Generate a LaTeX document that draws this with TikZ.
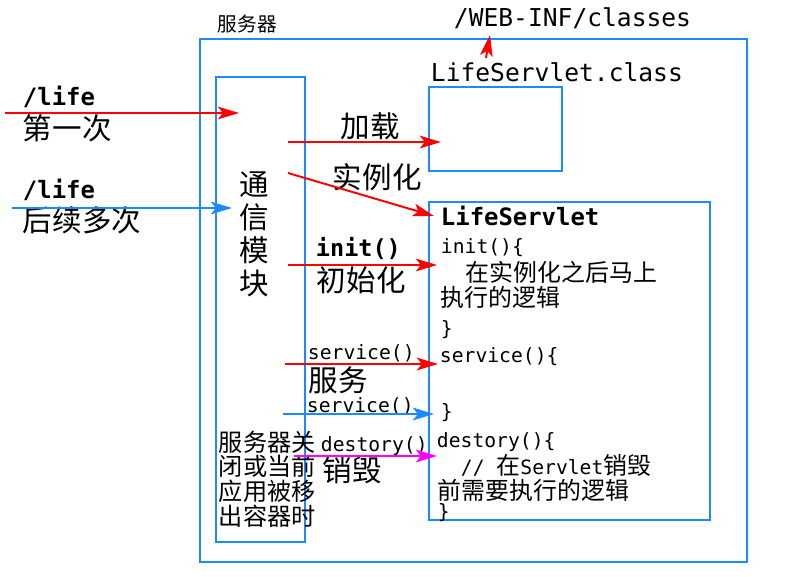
\documentclass[tikz,border=0pt]{standalone}
\usepackage{fontspec}
\setmainfont{Noto Sans CJK SC}
\setmonofont{DejaVu Sans Mono}
\usetikzlibrary{arrows.meta,fit}
\definecolor{frameblue}{RGB}{30,136,255}
\definecolor{destroypink}{RGB}{255,0,255}
\newcommand\zh[1]{{\rmfamily\fontsize{17}{17}\selectfont #1}}

\begin{document}
\begin{tikzpicture}[x=0.025cm,y=-0.025cm,line width=1.4pt,
    box/.style={draw=frameblue,inner sep=0pt},
    cn/.style={anchor=west,inner sep=0pt,font=\fontsize{#1}{#1}\selectfont},
    mono/.style={anchor=west,inner sep=0pt,font=\ttfamily\fontsize{#1}{#1}\selectfont},
    boldmono/.style={anchor=west,inner sep=0pt,font=\ttfamily\bfseries\fontsize{#1}{#1}\selectfont},
    call/.style={draw=#1,-{Stealth[length=15pt,width=9pt,inset=3.5pt]}}]
    \useasboundingbox (0,0) rectangle (791,577);

    \node[box,fit={(200,39) (747,562)}] (server) {};
    \node[box,fit={(216,77) (305,542)}] (comm) {};
    \node[box,fit={(429,87) (562,171)}] (classfile) {};
    \node[box,fit={(429,202) (710,520)}] (servlet) {};

    \node[cn=14] (servername) at (217,24) {服务器};
    \node[mono=17.5] (classes) at (453,18) {/WEB-INF/classes};
    \node[mono=17.5] (classname) at (430,72) {LifeServlet.class};
    \node[boldmono=17] (life1) at (22,97) {/life};
    \node[cn=21] (first) at (22,128) {第一次};
    \node[boldmono=17] (life2) at (22,190) {/life};
    \node[cn=21] (later) at (22,220) {后续多次};
    \node[font=\fontsize{21}{23.4}\selectfont,align=center,inner sep=0pt] (commtext) at (254,234) {通\\信\\模\\块};
    \node[anchor=west,inner sep=0pt,align=left,font=\fontsize{17.2}{17.5}\selectfont] (shutdown) at (218,479) {服务器关\\闭或当前\\应用被移\\出容器时};

    \node[cn=21] (load) at (340,126) {加载};
    \node[cn=21] (inst) at (332,177) {实例化};
    \node[boldmono=16.7] (initcall) at (315,249) {init()};
    \node[cn=21] (initname) at (316,280) {初始化};
    \node[mono=14] (service1) at (307,353) {service()};
    \node[cn=21] (servename) at (308,380) {服务};
    \node[mono=14] (service2) at (306,406) {service()};
    \node[mono=14] (destroycall) at (320,446) {destory()};
    \node[cn=21] (destroyname) at (322,470) {销毁};

    \node[boldmono=17] (title) at (440,216) {LifeServlet};
    \node[mono=14] (initopen) at (440,248) {init()\{};
    \node[cn=17] (initbody1) at (465,272) {在实例化之后马上};
    \node[cn=17] (initbody2) at (440,297) {执行的逻辑};
    \node[mono=14] (initclose) at (440,330) {\}};
    \node[mono=14] (serviceopen) at (439,357) {service()\{};
    \node[mono=14] (serviceclose) at (440,413) {\}};
    \node[mono=14] (destroyopen) at (436,442) {destory()\{};
    \node[mono=14] (destroybody1) at (460,465) {//~\zh{在}Servlet\zh{销毁}};
    \node[cn=17] (destroybody2) at (437,490) {前需要执行的逻辑};
    \node[mono=14] (destroyclose) at (437,513) {\}};

    \path (5,113) coordinate (firstin) (239,113) coordinate (firstend)
          (12,208) coordinate (laterin) (232,208) coordinate (laterend)
          (288,142) coordinate (loadin) (441,142) coordinate (loadend)
          (288,173) coordinate (instin) (434,216) coordinate (instend)
          (288,265) coordinate (initin) (437,265) coordinate (initend)
          (285,364) coordinate (service1in) (438,364) coordinate (service1end)
          (283,414) coordinate (service2in) (434,414) coordinate (service2end)
          (294,456) coordinate (destroyin) (437,456) coordinate (destroyend)
          (486,58) coordinate (classin) (490,35) coordinate (classend);

    \draw[call=red] (firstin) -- (firstend);
    \draw[call=frameblue] (laterin) -- (laterend);
    \draw[call=red] (loadin) -- (loadend);
    \draw[call=red] (instin) -- (instend);
    \draw[call=red] (initin) -- (initend);
    \draw[call=red] (service1in) -- (service1end);
    \draw[call=frameblue] (service2in) -- (service2end);
    \draw[call=destroypink] (destroyin) -- (destroyend);
    \draw[call=red] (classin) -- (classend);
\end{tikzpicture}
\end{document}
